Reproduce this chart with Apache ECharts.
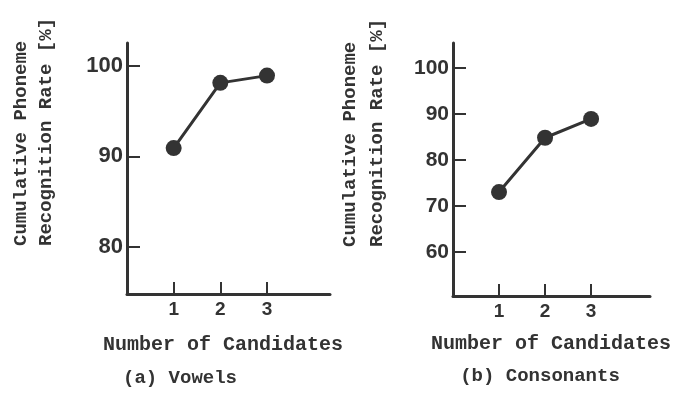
<!DOCTYPE html>
<html><head><meta charset="utf-8">
<script src="https://cdn.jsdelivr.net/npm/echarts@6/dist/echarts.min.js"></script>
<style>html,body{margin:0;padding:0;background:#fff}#c{width:688px;height:393px}</style>
</head><body><div id="c"></div>
<script>
const candidates = [1, 2, 3];
const vowelRates = [90.9, 98.1, 98.9];
const consonantRates = [73.0, 84.8, 88.9];
const vowelTicks = [80, 90, 100];
const consonantTicks = [60, 70, 80, 90, 100];
const xTicks = [1, 2, 3];

const ink = '#333';
const mono = '"Liberation Mono", "Courier New", monospace';
const sans = '"Liberation Sans", Arial, sans-serif';

function xAx(idx, max) {
  return {
    type: 'value', gridIndex: idx, min: 0, max: max,
    axisLine: { show: true, lineStyle: { color: ink, width: 3 } },
    axisTick: { show: true, inside: true, length: 12, customValues: xTicks, lineStyle: { color: ink, width: 2 } },
    axisLabel: { show: true, customValues: xTicks, color: ink, fontFamily: sans, fontWeight: 'bold', fontSize: 19, margin: 6 },
    splitLine: { show: false }
  };
}
function yAx(idx, min, max, ticks, fs) {
  return {
    type: 'value', gridIndex: idx, min: min, max: max,
    axisLine: { show: true, lineStyle: { color: ink, width: 3 } },
    axisTick: { show: true, inside: true, length: 13, customValues: ticks, lineStyle: { color: ink, width: 2 } },
    axisLabel: { show: true, customValues: ticks, color: ink, fontFamily: sans, fontWeight: 'bold', fontSize: fs, margin: 4 },
    splitLine: { show: false }
  };
}
function pairs(xs, ys) { return xs.map((x, i) => [x, ys[i]]); }

const chart = echarts.init(document.getElementById('c'));
chart.setOption({
  animation: false,
  backgroundColor: '#fff',
  grid: [
    { left: 127, top: 43, width: 203, height: 251 },
    { left: 453, top: 43, width: 197, height: 253 }
  ],
  xAxis: [xAx(0, 4.35), xAx(1, 4.28)],
  yAxis: [yAx(0, 74.8, 102.5, vowelTicks, 22), yAx(1, 50.4, 105.4, consonantTicks, 21)],
  series: [
    { type: 'line', xAxisIndex: 0, yAxisIndex: 0, data: pairs(candidates, vowelRates),
      symbol: 'circle', symbolSize: 16, lineStyle: { color: ink, width: 3 }, itemStyle: { color: ink } },
    { type: 'line', xAxisIndex: 1, yAxisIndex: 1, data: pairs(candidates, consonantRates),
      symbol: 'circle', symbolSize: 16, lineStyle: { color: ink, width: 3 }, itemStyle: { color: ink } }
  ],
  graphic: [
    { type: 'text', x: 21, y: 246, rotation: Math.PI / 2, style: { text: 'Cumulative Phoneme', fill: ink, font: 'bold 19px ' + mono, textAlign: 'left', textVerticalAlign: 'middle' } },
    { type: 'text', x: 46, y: 246, rotation: Math.PI / 2, style: { text: 'Recognition Rate [%]', fill: ink, font: 'bold 19px ' + mono, textAlign: 'left', textVerticalAlign: 'middle' } },
    { type: 'text', x: 350, y: 247, rotation: Math.PI / 2, style: { text: 'Cumulative Phoneme', fill: ink, font: 'bold 19px ' + mono, textAlign: 'left', textVerticalAlign: 'middle' } },
    { type: 'text', x: 377, y: 247, rotation: Math.PI / 2, style: { text: 'Recognition Rate [%]', fill: ink, font: 'bold 19px ' + mono, textAlign: 'left', textVerticalAlign: 'middle' } },
    { type: 'text', x: 223, y: 345, style: { text: 'Number of Candidates', fill: ink, font: 'bold 20px ' + mono, textAlign: 'center', textVerticalAlign: 'middle' } },
    { type: 'text', x: 180, y: 378, style: { text: '(a) Vowels', fill: ink, font: 'bold 19px ' + mono, textAlign: 'center', textVerticalAlign: 'middle' } },
    { type: 'text', x: 551, y: 344, style: { text: 'Number of Candidates', fill: ink, font: 'bold 20px ' + mono, textAlign: 'center', textVerticalAlign: 'middle' } },
    { type: 'text', x: 540, y: 376, style: { text: '(b) Consonants', fill: ink, font: 'bold 19px ' + mono, textAlign: 'center', textVerticalAlign: 'middle' } }
  ]
});
</script></body></html>
